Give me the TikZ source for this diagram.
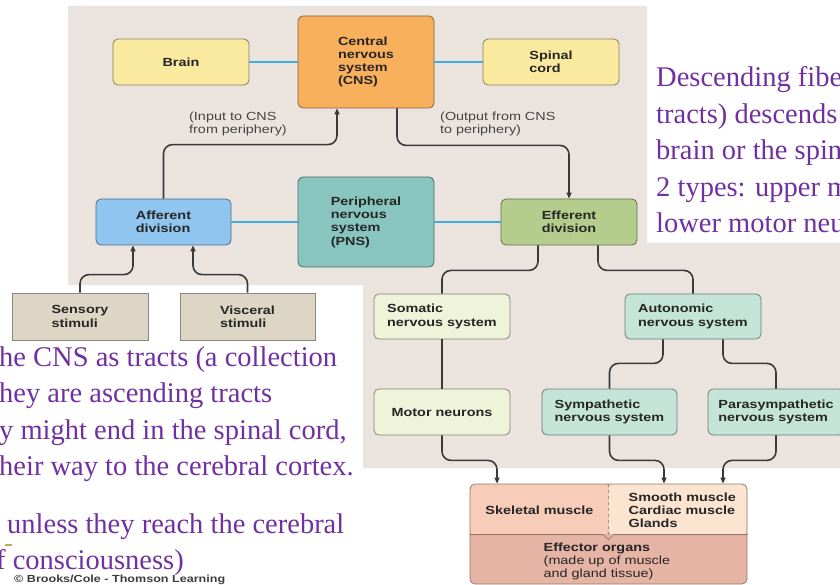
\documentclass[tikz,border=0pt]{standalone}
\usepackage{fontspec}
\setmainfont{Liberation Serif}
\newfontfamily\labelfont{Liberation Sans}[FakeStretch=1.22]
\usetikzlibrary{arrows.meta}

\definecolor{panel}{RGB}{235,227,222}
\definecolor{brainyellow}{RGB}{250,234,160}
\definecolor{cnsorange}{RGB}{248,176,92}
\definecolor{affblue}{RGB}{143,197,238}
\definecolor{pnsteal}{RGB}{136,197,191}
\definecolor{effgreen}{RGB}{180,204,140}
\definecolor{somcream}{RGB}{238,243,218}
\definecolor{automint}{RGB}{195,228,214}
\definecolor{stimfill}{RGB}{221,214,197}
\definecolor{stimedge}{RGB}{138,135,128}
\definecolor{skelpink}{RGB}{247,205,185}
\definecolor{smoothpeach}{RGB}{251,229,208}
\definecolor{organrose}{RGB}{230,180,165}
\definecolor{effedge}{RGB}{150,120,105}
\definecolor{dashtan}{RGB}{176,144,122}
\definecolor{bluelink}{RGB}{63,169,224}
\definecolor{linkgray}{RGB}{58,58,58}
\definecolor{inktext}{RGB}{38,38,38}
\definecolor{notegray}{RGB}{68,68,68}
\definecolor{creditgray}{RGB}{60,60,60}
\definecolor{slidepurple}{RGB}{112,48,160}
\definecolor{golddash}{RGB}{200,168,80}

\newcommand\boxfont{\labelfont\bfseries\fontsize{11.8}{13.3}\selectfont}
\newcommand\notefont{\labelfont\fontsize{11.8}{12.8}\selectfont}
\newcommand\creditfont{\labelfont\bfseries\fontsize{10.3}{12}\selectfont}
\newcommand\slidefont{\fontsize{28.5}{36.6}\selectfont}

\begin{document}
\begin{tikzpicture}[x=1pt,y=-1pt,
  cbox/.style={draw=#1!55!black, fill=#1, line width=0.8pt, rounded corners=5pt, inner sep=0pt,
    align=left, font=\boxfont, text=inktext, minimum width=136pt, minimum height=46pt},
  sbox/.style={draw=stimedge, fill=stimfill, line width=0.8pt, inner sep=0pt,
    align=left, font=\boxfont, text=inktext, minimum width=136pt, minimum height=47pt},
  blueline/.style={draw=bluelink, line width=1.4pt},
  link/.style={draw=linkgray, line width=1.6pt, rounded corners=9pt},
  tip/.style={-{Triangle[length=6pt,width=5pt]}},
  note/.style={font=\notefont, text=notegray, align=left, inner sep=0pt, anchor=north west},
  slide/.style={font=\slidefont, text=slidepurple, inner sep=0pt, anchor=base west}]

  \useasboundingbox (0,0) rectangle (840,585);
  \clip (0,0) rectangle (840,585);

  % background panel of the figure
  \fill[panel] (68,6) -- (647,6) -- (647,243) -- (840,243) -- (840,468) -- (363,468)
    -- (363,285) -- (68,285) -- cycle;

  % top row
  \node[cbox=brainyellow] (brain) at (181,62) {Brain};
  \node[cbox=cnsorange, minimum height=92pt] (cns) at (366,62) {Central\\nervous\\system\\(CNS)};
  \node[cbox=brainyellow] (spinal) at (551,62) {Spinal\\cord};

  \node[note] (input) at (189,112) {(Input to CNS\\from periphery)};
  \node[note] (output) at (440,112) {(Output from CNS\\to periphery)};

  % middle row
  \node[cbox=affblue, minimum width=135pt] (afferent) at (163.5,222) {Afferent\\division};
  \node[cbox=pnsteal, minimum height=90pt] (pns) at (366,222) {Peripheral\\nervous\\system\\(PNS)};
  \node[cbox=effgreen] (efferent) at (569,222) {Efferent\\division};

  \node[sbox] (sensory) at (80,316.5) {Sensory\\stimuli};
  \node[sbox, minimum width=135pt] (visceral) at (247.5,316.5) {Visceral\\stimuli};

  \node[cbox=somcream, minimum height=45pt] (somatic) at (442,316.5) {Somatic\\nervous system};
  \node[cbox=automint, minimum height=45pt] (autonomic) at (693,316.5) {Autonomic\\nervous system};

  \node[cbox=somcream] (motor) at (442,412) {Motor neurons};
  \node[cbox=automint, minimum width=135pt] (sympathetic) at (609.5,412) {Sympathetic\\nervous system};
  \node[cbox=automint] (parasympathetic) at (776,412) {Parasympathetic\\nervous system};

  % effector organs
  \node[draw=effedge, line width=0.8pt, rounded corners=5pt, minimum width=277pt, minimum height=100pt, inner sep=0pt,
    path picture={
      \fill[organrose] (path picture bounding box.north west) rectangle (path picture bounding box.south east);
      \fill[skelpink] (path picture bounding box.north west) rectangle ([yshift=-51pt]path picture bounding box.north);
      \fill[smoothpeach] (path picture bounding box.north) rectangle ([yshift=-51pt]path picture bounding box.north east);
    }] (effector) at (608.5,534) {};
  \draw[draw=effedge, line width=0.8pt] ([yshift=-51pt]effector.north west) -- ([xshift=-5pt,yshift=-51pt]effector.north)
    -- ([yshift=-56pt]effector.north) -- ([xshift=5pt,yshift=-51pt]effector.north) -- ([yshift=-51pt]effector.north east);
  \draw[dashed, draw=dashtan, line width=0.8pt] (effector.north) -- ([yshift=-53pt]effector.north);

  \node[font=\boxfont, text=inktext, inner sep=0pt] (skeletal) at ([xshift=-69pt,yshift=-27pt]effector.north) {Skeletal muscle};
  \node[font=\boxfont, text=inktext, inner sep=0pt, align=left, anchor=west] (smooth)
    at ([xshift=20pt,yshift=-26.5pt]effector.north) {Smooth muscle\\Cardiac muscle\\Glands};
  \node[font=\notefont, text=inktext, inner sep=0pt, align=left, anchor=west] (organs)
    at ([xshift=-65pt,yshift=-78pt]effector.north) {{\bfseries Effector organs}\\(made up of muscle\\and gland tissue)};

  % connectors
  \draw[blueline] (brain.east) -- (cns.west);
  \draw[blueline] (cns.east) -- (spinal.west);
  \draw[blueline] (afferent.east) -- (pns.west);
  \draw[blueline] (pns.east) -- (efferent.west);

  \draw[link, tip] (afferent.north) -- ++(0,-54) -| ([xshift=-29pt]cns.south);
  \draw[link, tip] ([xshift=31pt]cns.south) -- ++(0,37) -| (efferent.north);
  \draw[link, tip] (sensory.north) -- ++(0,-18) -| ([xshift=-30.5pt]afferent.south);
  \draw[link, tip] (visceral.north) -- ++(0,-18) -| ([xshift=29.5pt]afferent.south);
  \draw[link] ([xshift=-31pt]efferent.south) -- ++(0,25) -| (somatic.north);
  \draw[link] ([xshift=29pt]efferent.south) -- ++(0,25) -| (autonomic.north);
  \draw[link] (somatic.south) -- (motor.north);
  \draw[link] ([xshift=-30pt]autonomic.south) -- ++(0,24) -| (sympathetic.north);
  \draw[link] ([xshift=30pt]autonomic.south) -- ++(0,24) -| (parasympathetic.north);
  \draw[link, tip] (motor.south) -- ++(0,25) -| ([xshift=-111.5pt]effector.north);
  \draw[link, tip] (sympathetic.south) -- ++(0,25) -| ([xshift=55.5pt]effector.north);
  \draw[link, tip] (parasympathetic.south) -- ++(0,25) -| ([xshift=114.5pt]effector.north);

  % slide text over the figure
  \foreach \yy/\txt [count=\i] in {87/{Descending fibe}, 123.5/{tracts) descends}, 160/{brain or the spin},
      196.5/{2 types: upper m}, 233/{lower motor neu}}
    \node[slide] (right\i) at (656,\yy) {\txt};
  \foreach \xx/\yy/\txt [count=\i] in {-1/366/{he CNS as tracts (a collection}, -1/402.5/{hey are ascending tracts},
      -1/439/{y might end in the spinal cord,}, -1/475.5/{heir way to the cerebral cortex.},
      7/533/{unless they reach the cerebral}, -4/569/{f consciousness)}}
    \node[slide] (left\i) at (\xx,\yy) {\txt};
  \draw[golddash, line width=1.2pt] (5,545) -- (12,545);

  \node[font=\creditfont, text=creditgray, inner sep=0pt, anchor=base west] (credit) at (14,582)
    {\textcopyright{} Brooks/Cole - Thomson Learning};
\end{tikzpicture}
\end{document}
